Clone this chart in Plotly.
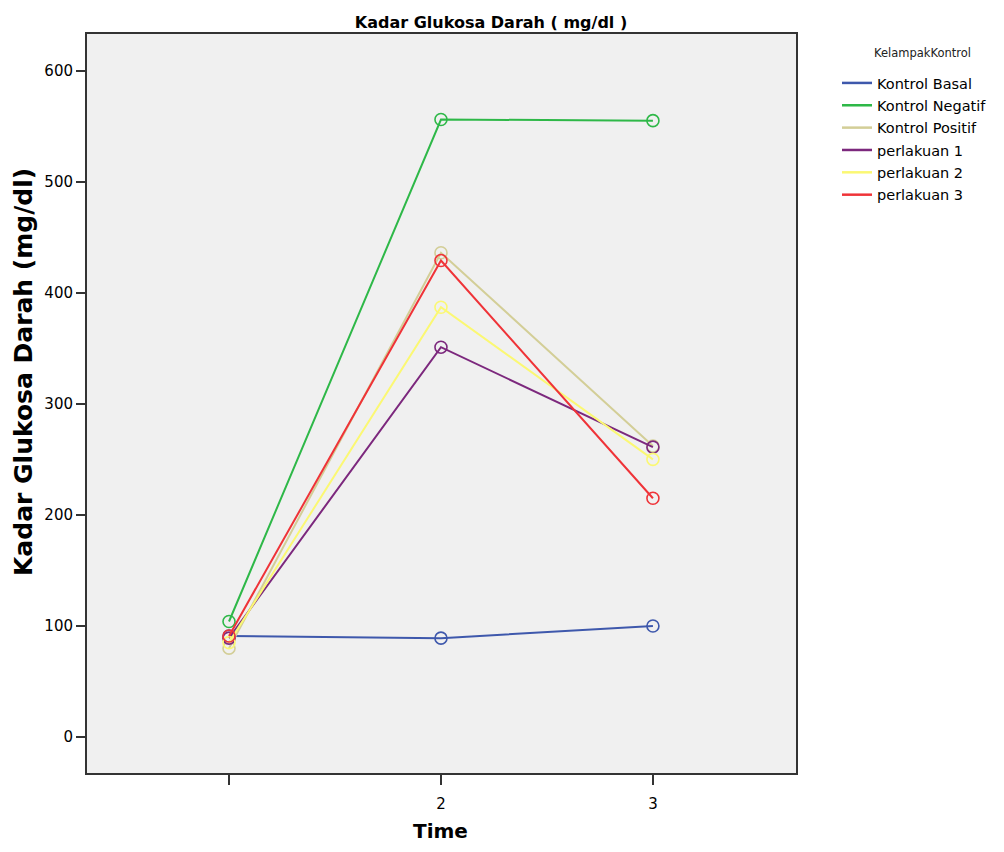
import plotly.graph_objects as go

time_points = [1, 2, 3]
tick_vals = [1, 2, 3]
tick_text = ["", "2", "3"]
y_ticks = [0, 100, 200, 300, 400, 500, 600]

groups = ["Kontrol Basal", "Kontrol Negatif", "Kontrol Positif",
          "perlakuan 1", "perlakuan 2", "perlakuan 3"]
kontrol_basal = [91, 89, 100]
kontrol_negatif = [104, 556, 555]
kontrol_positif = [80, 436, 262]
perlakuan_1 = [89, 351, 261]
perlakuan_2 = [85, 387, 250]
perlakuan_3 = [91, 429, 215]
colors = ["#3E58AC", "#2EB848", "#D3CE97", "#7C287D", "#FBF873", "#EF3338"]

series = [kontrol_basal, kontrol_negatif, kontrol_positif,
          perlakuan_1, perlakuan_2, perlakuan_3]

# page offset from default body margin
OFF = 8
W, H = 1004 - 2 * OFF, 852 - 2 * OFF
plot_l, plot_r, plot_t, plot_b = 87 - OFF, 796 - OFF, 34 - OFF, 773 - OFF
plot_w, plot_h = plot_r - plot_l, plot_b - plot_t

fig = go.Figure()
for name, vals, col in zip(groups, series, colors):
    fig.add_trace(go.Scatter(
        x=time_points, y=vals, name=name, mode="lines+markers", showlegend=False,
        line=dict(color=col, width=2),
        marker=dict(symbol="circle-open", size=12, color=col, line=dict(width=1.6, color=col)),
    ))
for name, col in zip(groups, colors):
    fig.add_trace(go.Scatter(
        x=[None], y=[None], name=name, mode="lines", legendgroup=name,
        line=dict(color=col, width=2.5), showlegend=True,
    ))

def px_x(px):
    return (px - OFF - plot_l) / plot_w

def px_y(py):
    return 1 - (py - OFF - plot_t) / plot_h

fig.add_annotation(
    text="KelampakKontrol", xref="paper", yref="paper",
    x=px_x(872), y=px_y(53), xanchor="left", yanchor="middle", showarrow=False,
    font=dict(family="DejaVu Sans, sans-serif", size=11.5, color="#222222"),
)
fig.add_annotation(
    text="<b>Kadar Glukosa Darah (mg/dl)</b>", xref="paper", yref="paper",
    x=px_x(23), y=px_y(372), xanchor="center", yanchor="middle", showarrow=False,
    textangle=-90, font=dict(family="DejaVu Sans, sans-serif", size=25, color="black"),
)
fig.add_annotation(
    text="<b>Time</b>", xref="paper", yref="paper",
    x=px_x(440), y=px_y(831), xanchor="center", yanchor="middle", showarrow=False,
    font=dict(family="DejaVu Sans, sans-serif", size=20, color="black"),
)

fig.update_layout(
    width=W, height=H,
    margin=dict(l=plot_l, r=W - plot_r, t=plot_t, b=H - plot_b, autoexpand=False),
    paper_bgcolor="white", plot_bgcolor="#F0F0F0",
    font=dict(family="Liberation Sans, Arial, sans-serif", color="black"),
    title=dict(text="<b>Kadar Glukosa Darah ( mg/dl )</b>", x=px_x(491), xanchor="center",
               xref="paper", y=1 - (22 - OFF) / H, yanchor="middle",
               font=dict(family="DejaVu Sans, sans-serif", size=16)),
    showlegend=True,
    legend=dict(
        x=px_x(837), y=px_y(67), xanchor="left", yanchor="top",
        font=dict(family="DejaVu Sans, sans-serif", size=14.5), tracegroupgap=0.5, itemwidth=30,
        bgcolor="rgba(0,0,0,0)",
    ),
    xaxis=dict(
        range=[0.33, 3.675], tickvals=tick_vals, ticktext=tick_text, automargin=False,
        showgrid=False, zeroline=False, ticks="outside", ticklen=10, tickwidth=2,
        tickcolor="#333333", tickfont=dict(family="DejaVu Sans, sans-serif", size=15),
        ticklabelstandoff=6,
        showline=True, linecolor="#333333", linewidth=2, mirror=True,
    ),
    yaxis=dict(
        range=[-32.4, 633], tickvals=y_ticks, automargin=False,
        showgrid=False, zeroline=False, ticks="outside", ticklen=9, tickwidth=2,
        tickcolor="#333333", tickfont=dict(family="DejaVu Sans, sans-serif", size=15),
        showline=True, linecolor="#333333", linewidth=2, mirror=True,
    ),
)

fig.write_html("out.html")
